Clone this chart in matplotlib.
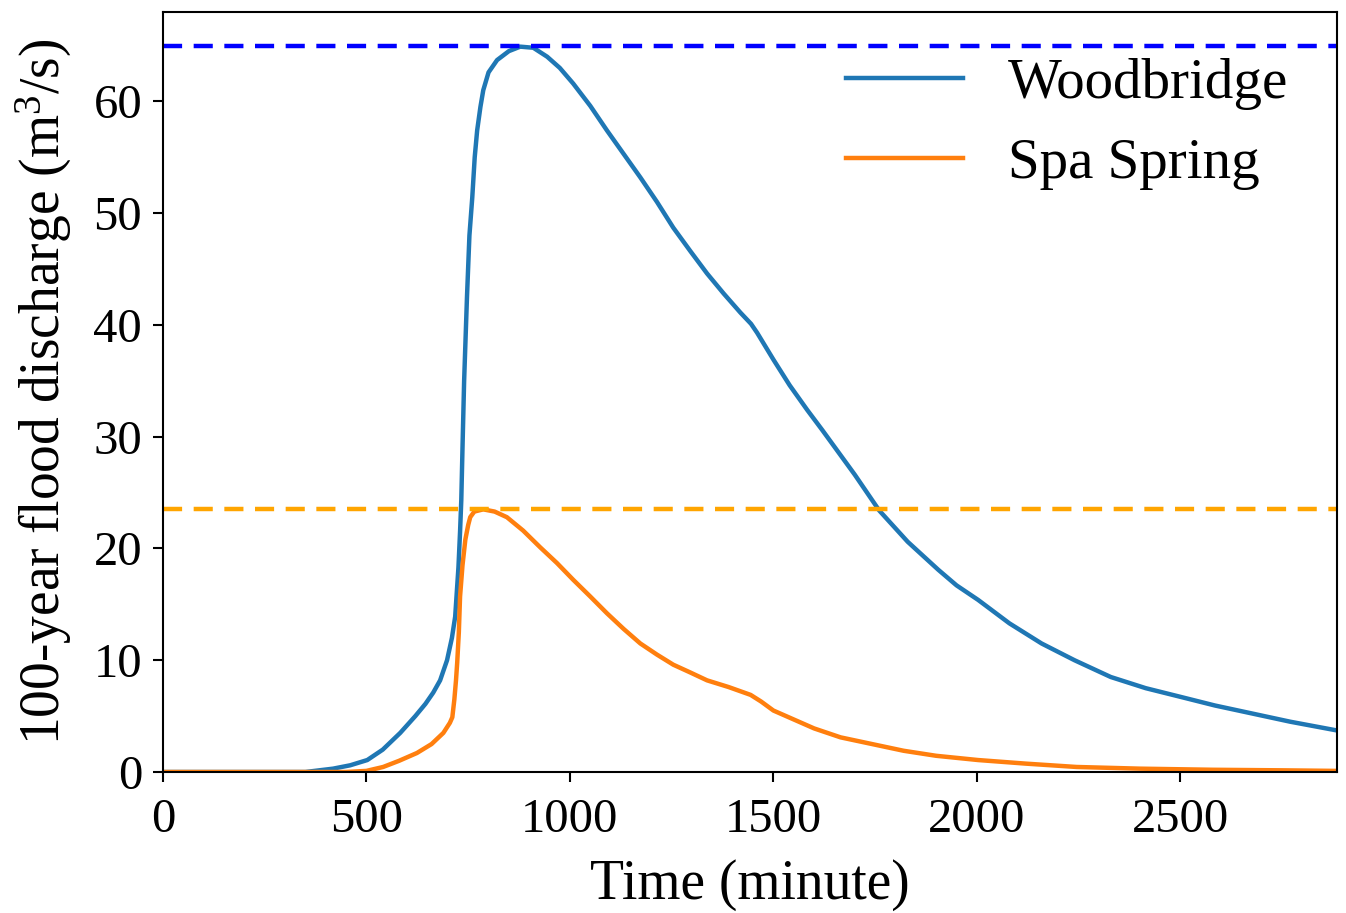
import matplotlib
matplotlib.use("Agg")
import matplotlib.pyplot as plt

plt.rcParams['font.family'] = ['Liberation Serif', 'DejaVu Serif']
plt.rcParams['mathtext.fontset'] = 'custom'
plt.rcParams['mathtext.rm'] = 'Liberation Serif'
plt.rcParams['mathtext.it'] = 'Liberation Serif:italic'

# Woodbridge hydrograph (time in minutes, discharge in m3/s)
wood_t = [0, 350, 418, 460, 502, 540, 583, 620, 645, 664, 681, 698, 710, 718, 726, 730,
          733, 736, 740, 747, 753, 760, 766, 772, 780, 787, 800, 821, 850, 878, 910,
          944, 975, 1008, 1050, 1091, 1132, 1173, 1214, 1254, 1296, 1337, 1378, 1419,
          1445, 1460, 1480, 1500, 1540, 1583, 1620, 1650, 1700, 1760, 1830, 1905,
          1950, 2003, 2080, 2159, 2240, 2329, 2415, 2503, 2585, 2668, 2770, 2880]
wood_q = [0, 0, 0.3, 0.6, 1.07, 2.0, 3.5, 5.0, 6.1, 7.1, 8.2, 10, 12, 13.9, 18.3, 21.5,
          24.3, 29, 35, 42.5, 48, 51.4, 55, 57.4, 59.5, 61, 62.6, 63.7, 64.5, 64.9, 64.8,
          64.0, 63.0, 61.6, 59.6, 57.4, 55.3, 53.2, 51.0, 48.7, 46.6, 44.6, 42.8, 41.1,
          40.1, 39.3, 38.1, 36.9, 34.6, 32.4, 30.6, 29.1, 26.6, 23.4, 20.6, 18.1,
          16.7, 15.4, 13.3, 11.5, 10.0, 8.5, 7.5, 6.7, 5.95, 5.3, 4.5, 3.75]

# Spa Spring hydrograph
spa_t = [0, 450, 500, 541, 580, 624, 660, 689, 705, 711, 716, 720, 723, 727, 730,
         736, 743, 750, 755, 765, 787, 815, 845, 885, 927, 968, 1008, 1050, 1091,
         1132, 1173, 1214, 1254, 1296, 1337, 1390, 1444, 1470, 1500, 1550, 1600,
         1665, 1736, 1820, 1900, 2003, 2120, 2245, 2400, 2580, 2750, 2880]
spa_q = [0, 0, 0.1, 0.45, 1.0, 1.7, 2.5, 3.5, 4.4, 4.9, 6.5, 8.2, 9.8, 12.5, 15.7,
         18.5, 20.8, 22.1, 22.8, 23.3, 23.5, 23.3, 22.8, 21.6, 20.1, 18.7, 17.2, 15.7,
         14.2, 12.8, 11.5, 10.5, 9.6, 8.9, 8.2, 7.6, 6.9, 6.3, 5.5, 4.7, 3.9,
         3.1, 2.55, 1.9, 1.45, 1.07, 0.75, 0.45, 0.3, 0.2, 0.15, 0.1]

wood_peak = 65.0
spa_peak = 23.5

x_ticks = [0, 500, 1000, 1500, 2000, 2500]
y_ticks = [0, 10, 20, 30, 40, 50, 60]

fig = plt.figure(figsize=(13.46, 9.13), dpi=100)
ax = fig.add_axes([163/1346, (913-772)/913, (1337-163)/1346, (772-12)/913])

ax.plot(wood_t, wood_q, color='#1f77b4', lw=3.2, label='Woodbridge')
ax.plot(spa_t, spa_q, color='#ff7f0e', lw=3.2, label='Spa Spring')
ax.axhline(wood_peak, color='blue', lw=3.2, ls=(0, (4.3, 2.6)))
ax.axhline(spa_peak, color='orange', lw=3.2, ls=(0, (4.3, 2.6)))

ax.set_xlim(0, 2885)
ax.set_ylim(0, 68)
ax.set_xticks(x_ticks)
ax.set_yticks(y_ticks)
ax.tick_params(axis='both', labelsize=35, direction='out', length=7, width=1.5)
ax.tick_params(axis='x', pad=12)
ax.tick_params(axis='y', pad=8)
for s in ax.spines.values():
    s.set_linewidth(1.5)

ax.set_xlabel('Time (minute)', fontsize=40, labelpad=12)
ax.set_ylabel('100-year flood discharge (m$^3$/s)', fontsize=40, labelpad=14)

ax.legend(loc='upper left', bbox_to_anchor=(0.5818, 0.94), frameon=False,
          fontsize=41, handlelength=2.05, handletextpad=0.8, labelspacing=0.5,
          borderpad=0, borderaxespad=0)

fig.savefig('out.png', dpi=100)
